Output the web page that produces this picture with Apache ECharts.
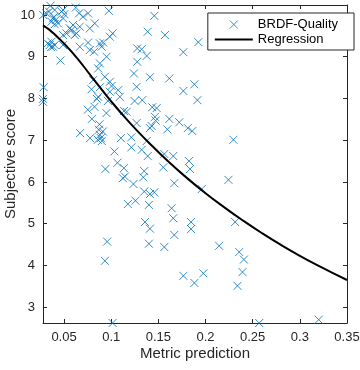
<!DOCTYPE html>
<html>
<head>
<meta charset="utf-8">
<script src="https://cdn.jsdelivr.net/npm/echarts@6/dist/echarts.min.js"></script>
<style>html,body{margin:0;padding:0;background:#fff}#c{width:360px;height:370px}</style>
</head>
<body>
<div id="c"></div>
<script>
const metricPrediction = [
0.0356,0.0280,0.0341,0.0401,0.0473,0.0490,0.0383,0.0412,0.0366,0.0436,0.0401,0.0490,0.0625,0.0660,0.0755,0.0975,0.0702,0.0826,0.0773,0.0596,
0.0579,0.0561,0.0632,0.0667,0.0614,0.0526,0.0490,0.0366,0.0348,0.0383,0.0401,0.0490,0.0462,0.0667,0.0755,0.0773,0.0819,0.0880,0.0915,0.0898,
0.0986,0.1015,0.0951,0.0880,0.0862,0.0933,0.0986,0.1004,0.1074,0.0808,0.0791,0.0880,0.0986,0.0862,0.0848,0.0284,0.0277,0.0277,0.1092,0.1248,
0.1276,0.1276,0.1241,0.1270,0.1163,0.0752,0.0949,0.0795,0.1457,0.1387,0.1570,0.1924,0.1765,0.1323,0.1376,0.1411,0.1616,0.1882,0.1765,0.1329,
0.1914,0.1435,0.1482,0.1464,0.1471,0.1429,0.1411,0.1616,0.1595,0.1722,0.1812,0.1860,0.2296,0.1270,0.1376,0.1323,0.1387,0.1563,0.1658,0.1825,
0.1552,0.1836,0.1350,0.1340,0.1669,0.2243,0.1960,0.1350,0.1411,0.1457,0.1400,0.1641,0.1658,0.1358,0.1411,0.1847,0.1847,0.2314,0.1669,0.1400,
0.1563,0.2144,0.2357,0.2407,0.2392,0.2339,0.1765,0.1882,0.1977,0.2569,0.3200,0.1015,0.0957,0.0933,0.0965,0.0823,0.1135,0.0670,0.0776,0.0876,
0.0869,0.0911,0.0880,0.0890,0.0858,0.0901,0.1103,0.1214,0.1214,0.1034,0.0938,0.1066,0.1135,0.1145,0.1124,0.1236,0.1177,0.1257,
0.0311,0.0391,0.0327,0.0362,0.0504
];
const subjectiveScore = [
10.22,10.00,10.08,10.12,10.08,10.12,9.92,9.88,9.84,9.80,9.78,9.92,10.18,10.04,10.04,10.10,9.96,9.80,9.68,9.76,
9.64,9.68,9.56,9.72,9.52,9.56,9.52,9.36,9.28,9.24,9.28,9.28,8.91,9.24,9.34,9.16,9.12,9.32,9.34,9.24,
9.48,9.56,9.00,8.84,8.72,8.52,8.40,8.30,8.20,8.44,8.22,8.27,8.16,8.04,7.99,8.27,7.99,7.92,8.04,7.94,
9.20,8.88,8.60,8.28,7.68,7.73,7.65,7.51,9.98,9.60,9.52,9.35,9.11,9.18,9.02,8.51,8.48,8.34,8.18,7.96,
7.96,7.79,7.77,7.56,7.47,7.34,7.29,7.51,7.26,7.43,7.29,7.22,7.01,7.41,6.98,6.77,6.62,6.67,6.62,6.50,
6.35,6.31,6.26,6.11,5.97,6.05,5.83,5.77,5.71,5.75,5.45,5.37,5.13,5.04,4.88,5.04,4.87,5.04,4.73,4.52,
4.44,4.47,4.32,4.14,3.84,3.51,3.75,3.58,3.81,2.62,2.70,2.62,4.57,4.11,7.94,7.80,7.70,7.17,7.05,7.38,
7.25,7.21,7.13,7.05,7.01,6.98,7.05,7.07,6.83,6.73,6.31,6.46,6.33,6.13,6.09,5.95,5.47,5.55,
10.04,9.95,9.32,9.23,10.02
];
const regressionX = [0.0277,0.04,0.06,0.08,0.10,0.12,0.14,0.16,0.18,0.20,0.22,0.24,0.26,0.28,0.30,0.32,0.35];
const regressionY = [9.75,9.54,9.07,8.50,7.93,7.41,6.94,6.50,6.10,5.73,5.39,5.07,4.77,4.49,4.23,3.99,3.65];
const xTicks = [0.05,0.1,0.15,0.2,0.25,0.3,0.35];
const yTicks = [3,4,5,6,7,8,9,10];

const axisColor = '#262626';
const font = 'Liberation Sans, Arial, sans-serif';
const xMin = 0.0277, xMax = 0.35, yMin = 2.62, yMax = 10.24;

function xAxisDef(pos, main) {
  return {
    type: 'value', position: pos, min: xMin, max: xMax,
    name: main ? 'Metric prediction' : '', nameLocation: 'middle', nameGap: 23,
    nameMoveOverlap: false,
    nameTextStyle: {color: axisColor, fontSize: 15, fontFamily: font},
    axisLine: {show: true, onZero: false, lineStyle: {color: axisColor, width: 1}},
    axisTick: {show: true, inside: true, length: 4, customValues: xTicks, lineStyle: {color: axisColor}},
    axisLabel: {show: main, customValues: xTicks, margin: 8, color: axisColor, fontSize: 13, fontFamily: font},
    splitLine: {show: false}
  };
}
function yAxisDef(pos, main) {
  return {
    type: 'value', position: pos, min: yMin, max: yMax,
    name: main ? 'Subjective score' : '', nameLocation: 'middle', nameGap: 25,
    nameMoveOverlap: false,
    nameTextStyle: {color: axisColor, fontSize: 15, fontFamily: font},
    axisLine: {show: true, onZero: false, lineStyle: {color: axisColor, width: 1}},
    axisTick: {show: true, inside: true, length: 4, customValues: yTicks, lineStyle: {color: axisColor}},
    axisLabel: {show: main, customValues: yTicks, margin: 8, color: axisColor, fontSize: 13, fontFamily: font},
    splitLine: {show: false}
  };
}

const chart = echarts.init(document.getElementById('c'), null, {renderer: 'canvas'});
chart.setOption({
  animation: false,
  backgroundColor: '#fff',
  grid: {left: 43, right: 13, top: 5, bottom: 47, containLabel: false, outerBoundsMode: 'none'},
  xAxis: [xAxisDef('bottom', true), xAxisDef('top', false)],
  yAxis: [yAxisDef('left', true), yAxisDef('right', false)],
  legend: {
    orient: 'vertical', right: 6, top: 13,
    backgroundColor: '#fff', borderColor: axisColor, borderWidth: 1, borderRadius: 0,
    padding: [5, 16, 4, 6], itemGap: 2, itemWidth: 38, itemHeight: 8,
    textStyle: {color: '#000', fontSize: 13, fontFamily: font},
    data: [
      {name: 'BRDF-Quality', icon: 'path://M0,0L10,10M10,0L0,10',
       itemStyle: {color: 'rgba(0,0,0,0)', borderColor: '#0072BD', borderWidth: 1}},
      {name: 'Regression', itemStyle: {color: 'rgba(0,0,0,0)', borderWidth: 0},
       lineStyle: {color: '#000', width: 2}}
    ]
  },
  series: [
    {
      name: 'BRDF-Quality', type: 'scatter', clip: false,
      symbol: 'path://M0,0L10,10M10,0L0,10', symbolSize: 8,
      itemStyle: {color: 'rgba(0,0,0,0)', borderColor: '#0072BD', borderWidth: 1},
      data: metricPrediction.map((x, i) => [x, subjectiveScore[i]])
    },
    {
      name: 'Regression', type: 'line', smooth: true, symbol: 'none',
      lineStyle: {color: '#000', width: 2},
      itemStyle: {color: '#000'},
      data: regressionX.map((x, i) => [x, regressionY[i]])
    }
  ]
});
</script>
</body>
</html>
